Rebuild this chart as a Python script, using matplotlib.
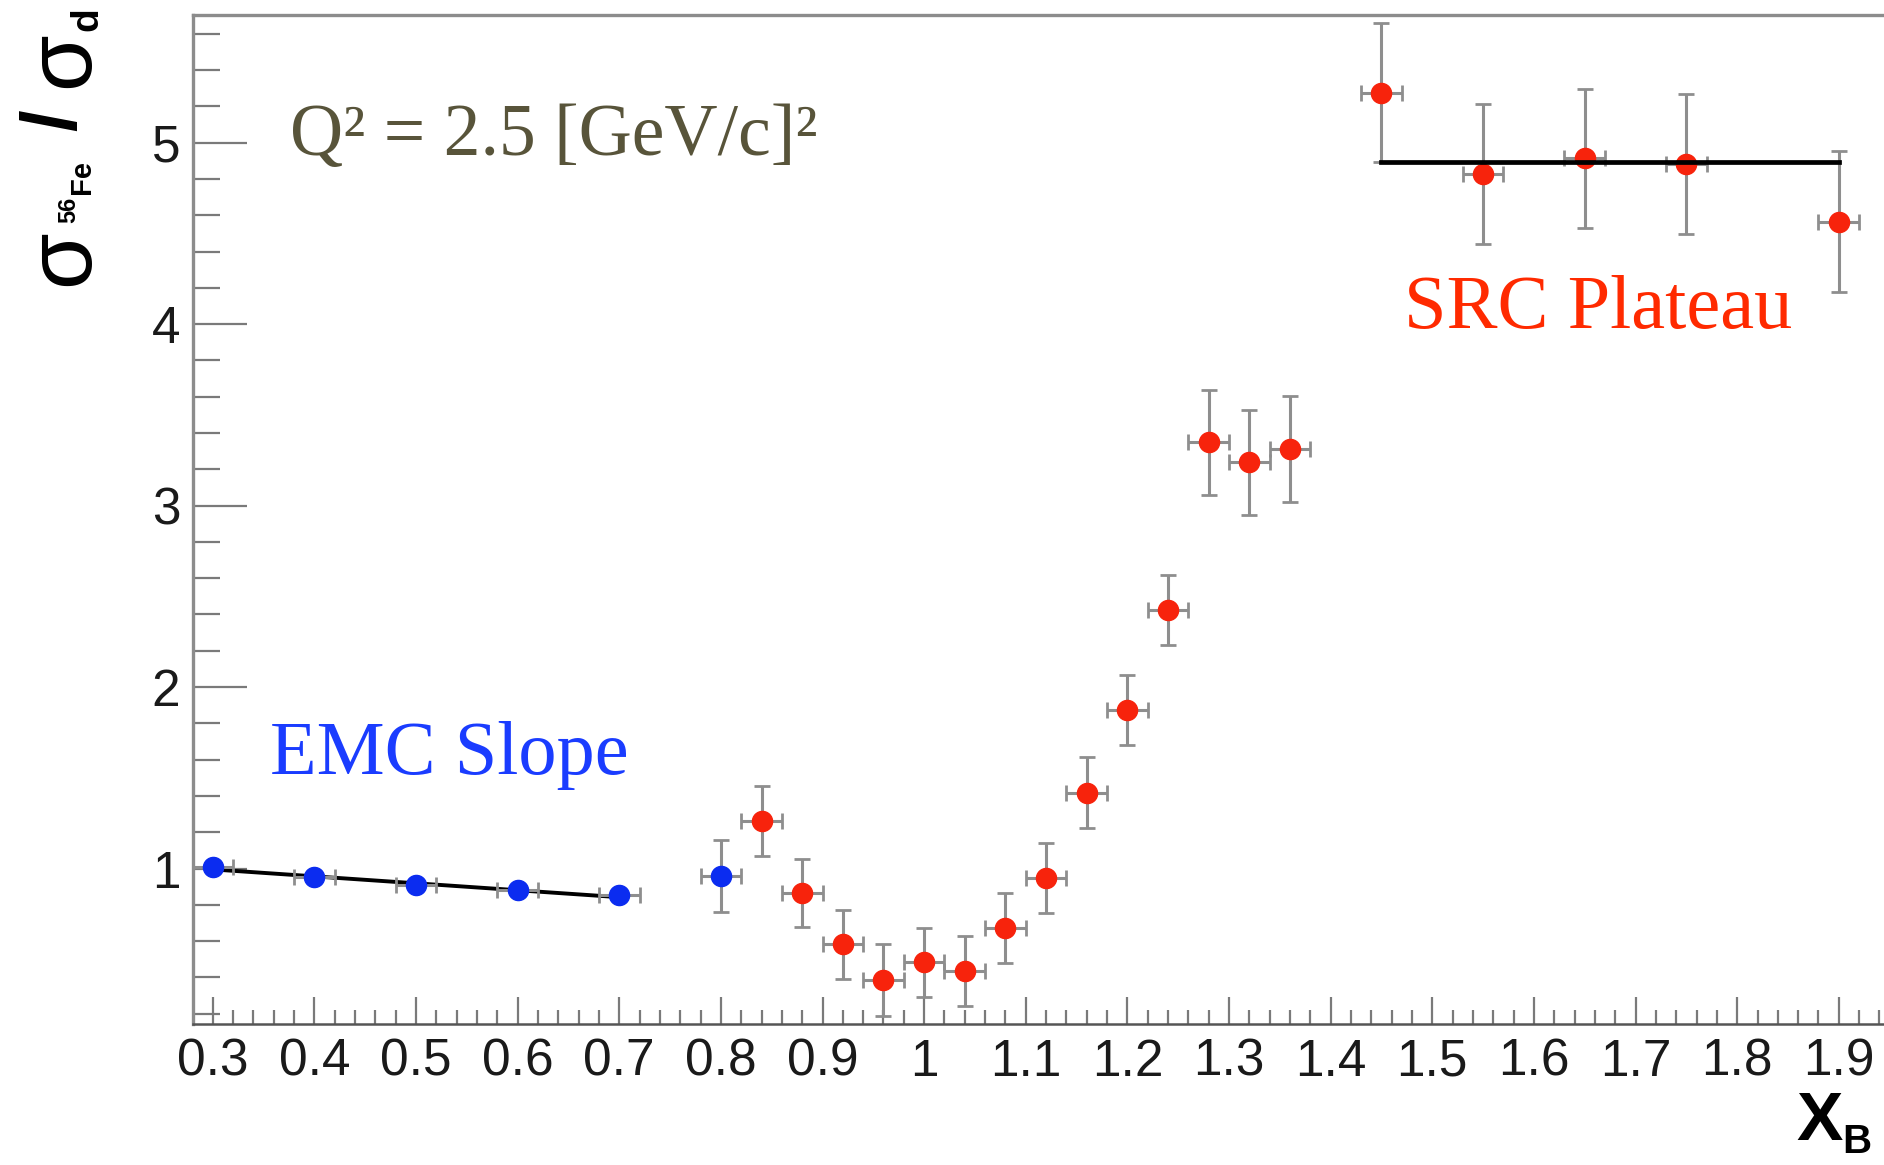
import numpy as np
import matplotlib
matplotlib.use('Agg')
import matplotlib.pyplot as plt
from matplotlib.ticker import MultipleLocator, FuncFormatter

# EMC region, fitted with a straight line
emc_x = [0.3, 0.4, 0.5, 0.6, 0.7]
emc_y = [1.01, 0.951, 0.909, 0.882, 0.854]
emc_xerr = [0.02, 0.02, 0.02, 0.02, 0.02]
emc_yerr = [0.012, 0.012, 0.012, 0.012, 0.012]

# single blue point at x = 0.8
mid_x = [0.80]
mid_y = [0.96]
mid_xerr = [0.02]
mid_yerr = [0.197]

# red points: dip, rise and SRC plateau
red_x = [0.84, 0.88, 0.92, 0.96, 1.00, 1.04, 1.08, 1.12, 1.16, 1.20, 1.24,
         1.28, 1.32, 1.36, 1.45, 1.55, 1.65, 1.75, 1.90]
red_y = [1.262, 0.863, 0.582, 0.385, 0.483, 0.435, 0.67, 0.946, 1.418, 1.873,
         2.425, 3.349, 3.239, 3.312, 5.276, 4.828, 4.914, 4.883, 4.565]
red_xerr = [0.02] * 19
red_yerr = [0.193, 0.187, 0.191, 0.199, 0.19, 0.195, 0.193, 0.192, 0.196,
            0.193, 0.191, 0.29, 0.288, 0.29, 0.384, 0.387, 0.384, 0.388, 0.389]

# fit lines
emc_fit_x = [0.3, 0.7]
emc_fit_y = [0.995, 0.842]
src_fit_x = [1.45, 1.90]
src_fit_y = [4.892, 4.892]

W, H = 1884, 1165
RED = '#f7230c'
BLUE = '#0b2cf0'


def fx(px):
    return px / W


def fy(py):
    return 1 - py / H


plt.rcParams['font.family'] = ['Liberation Sans', 'DejaVu Sans']

fig = plt.figure(figsize=(W / 100, H / 100), dpi=100)
ax = fig.add_axes([fx(193), fy(1024), fx(1900) - fx(193), fy(15) - fy(1024)])
ax.set_xlim(0.2806, 1.9602)
ax.set_ylim(0.143, 5.704)


def draw(x, y, xe, ye, color, z=3):
    _, caps, bars = ax.errorbar(x, y, xerr=xe, yerr=ye, fmt='o', ms=14.5,
                                mfc=color, mec=color, ecolor='#8e8e8e',
                                elinewidth=2.2, capsize=5.5, capthick=2.0,
                                zorder=z)
    for c in caps:
        c.set_color('#3a3a3a')


ax.plot(emc_fit_x, emc_fit_y, color='black', lw=2.8, zorder=2)
draw(emc_x, emc_y, emc_xerr, emc_yerr, BLUE)
draw(mid_x, mid_y, mid_xerr, mid_yerr, BLUE)
draw(red_x, red_y, red_xerr, red_yerr, RED)
ax.plot(src_fit_x, src_fit_y, color='black', lw=3.4, zorder=4)

# axes styling (ROOT-like)
for s in ['left', 'top']:
    ax.spines[s].set_color('#8c8c8c')
    ax.spines[s].set_linewidth(2.4)
ax.spines['bottom'].set_color('#555555')
ax.spines['bottom'].set_linewidth(1.8)
ax.spines['right'].set_visible(False)

ax.xaxis.set_major_locator(MultipleLocator(0.1))
ax.xaxis.set_minor_locator(MultipleLocator(0.02))
ax.yaxis.set_major_locator(MultipleLocator(1))
ax.yaxis.set_minor_locator(MultipleLocator(0.2))
fmt = FuncFormatter(lambda v, p: '%g' % round(v, 3))
ax.xaxis.set_major_formatter(fmt)
ax.yaxis.set_major_formatter(fmt)

ax.tick_params(axis='both', which='both', direction='in', color='#7a7a7a',
               width=1.6, labelcolor='#1a1a1a', labelsize=37)
ax.tick_params(axis='x', which='major', length=19.5, pad=10)
ax.tick_params(axis='x', which='minor', length=10)
ax.tick_params(axis='y', which='major', length=39, pad=9)
ax.tick_params(axis='y', which='minor', length=19.5)
ax.xaxis.set_ticks_position('bottom')
ax.yaxis.set_ticks_position('left')

# y title, written piece by piece (rotated, reading bottom to top)
ylab = [('σ', 88, 286, 66, 'normal'), ('56', 75, 223, 17, 'bold'),
        ('Fe', 90, 194, 21, 'bold'), ('/', 76, 131, 56, 'bold'),
        ('σ', 88, 88, 66, 'normal'), ('d', 97, 31, 28, 'bold')]
for s, bx, by, size, wt in ylab:
    fig.text(fx(bx), fy(by), s, rotation=90, rotation_mode='anchor',
             ha='left', va='baseline', fontsize=size, fontweight=wt,
             color='black')

# x title
fig.text(fx(1796), fy(1140), 'X', fontsize=50, fontweight='bold',
         ha='left', va='baseline', color='black')
fig.text(fx(1842), fy(1153), 'B', fontsize=29, fontweight='bold',
         ha='left', va='baseline', color='black')

# annotations
fig.text(fx(290), fy(155), 'Q² = 2.5 [GeV/c]²', fontsize=53,
         family='Liberation Serif', color='#58543a', ha='left', va='baseline')
fig.text(fx(270), fy(774), 'EMC Slope', fontsize=55,
         family='Liberation Serif', color='#1a3cff', ha='left', va='baseline')
fig.text(fx(1404), fy(328), 'SRC Plateau', fontsize=55,
         family='Liberation Serif', color='#ff2a00', ha='left', va='baseline')

fig.savefig('out.png', dpi=100)
